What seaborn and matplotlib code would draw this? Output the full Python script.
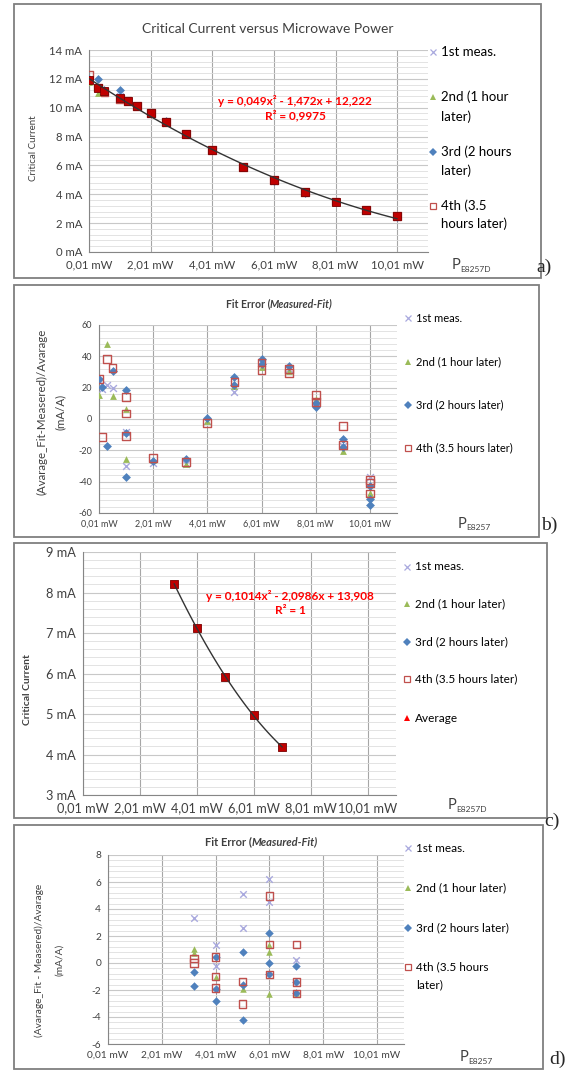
import matplotlib
matplotlib.use("Agg")
import matplotlib.pyplot as plt
from matplotlib.patches import Rectangle
from matplotlib.lines import Line2D
from matplotlib.ticker import MultipleLocator, FuncFormatter
import seaborn as sns

# ---------------- data ----------------
x_ticks = [0.01, 2.01, 4.01, 6.01, 8.01, 10.01]

# a) critical current (mA) for each measurement run
a_x = [0.01, 0.31, 0.51, 1.01, 1.26, 1.56, 2.01, 2.51, 3.16, 4.01, 5.01, 6.01, 7.01, 8.01, 9.01, 10.01]
a_1st = [11.9, 11.4, 11.1, 10.8, 10.45, 10.1, 9.6, 8.95, 8.15, 7.05, 5.9, 4.95, 4.15, 3.45, 2.9, 2.45]
a_2nd = [11.8, 11.05, 11.1, 10.6, 10.4, 10.05, 9.7, 9.0, 8.25, 7.1, 5.95, 5.0, 4.15, 3.5, 2.95, 2.5]
a_3rd = [12.0, 12.0, 11.2, 11.2, 10.5, 10.15, 9.6, 9.05, 8.2, 7.1, 5.9, 4.95, 4.1, 3.5, 2.9, 2.45]
a_4th = [12.25, 11.4, 11.1, 10.6, 10.45, 10.1, 9.65, 9.0, 8.2, 7.05, 5.9, 5.0, 4.15, 3.5, 2.9, 2.5]
a_avg = [11.95, 11.35, 11.15, 10.7, 10.45, 10.1, 9.65, 9.0, 8.2, 7.08, 5.92, 4.97, 4.15, 3.5, 2.92, 2.47]

# b) fit error, whole range
b_x_1st = [0.01, 0.11, 0.31, 0.51, 1.01, 1.01, 2.01, 3.21, 4.01, 5.01, 6.01, 7.01, 8.01, 9.01, 10.01]
b_y_1st = [24, 19, 22, 20, -8, -30, -28, -29, -1, 17, 36, 32, 11, -17, -37]
b_x_2nd = [0.01, 0.31, 0.51, 1.01, 1.01, 2.01, 3.21, 4.01, 5.01, 6.01, 7.01, 8.01, 9.01, 10.01]
b_y_2nd = [15.5, 48, 14.5, 6.5, -25.5, -26, -28.5, -1.5, 21, 33, 30.5, 13, -20.5, -47]
b_x_3rd = [0.01, 0.11, 0.31, 0.51, 1.01, 1.01, 1.01, 2.01, 3.21, 4.01, 5.01, 5.01, 6.01, 6.01,
           7.01, 8.01, 8.01, 9.01, 9.01, 10.01, 10.01, 10.01]
b_y_3rd = [25.5, 20.5, -17.5, 30.5, 18.5, -9, -37, -27, -25.5, 0.5, 27, 22, 38, 35,
           34, 10.5, 7.5, -13, -18, -43, -51, -55]
b_x_4th = [0.01, 0.11, 0.31, 0.51, 1.01, 1.01, 1.01, 2.01, 3.21, 4.01, 5.01, 6.01, 6.01,
           7.01, 7.01, 8.01, 8.01, 9.01, 9.01, 10.01, 10.01, 10.01]
b_y_4th = [25.5, -11.5, 38.5, 32.5, 14, 3.5, -11, -25, -27.5, -2.5, 23.5, 36, 31.5,
           32, 29.5, 15.5, 11, -4.5, -16.5, -39, -41, -47.5]

# c) average critical current, reduced range
c_x = [3.21, 4.01, 5.01, 6.01, 7.01]
c_avg = [8.22, 7.12, 5.92, 4.97, 4.18]

# d) fit error, reduced range
d_x_1st = [3.21, 4.01, 4.01, 5.01, 5.01, 6.01, 6.01, 7.01]
d_y_1st = [3.3, 1.3, -0.2, 5.1, 2.6, 6.25, 4.55, 0.2]
d_x_2nd = [3.21, 3.21, 4.01, 5.01, 6.01, 6.01, 6.01, 7.01]
d_y_2nd = [1.05, 0.75, -1.0, -1.9, 1.35, 0.85, -2.3, -2.2]
d_x_3rd = [3.21, 3.21, 4.01, 4.01, 4.01, 5.01, 5.01, 5.01, 6.01, 6.01, 6.01, 7.01, 7.01, 7.01]
d_y_3rd = [-0.65, -1.7, 0.45, -1.9, -2.8, 0.85, -1.65, -4.2, 2.25, 0.0, -0.85, -0.25, -1.4, -2.25]
d_x_4th = [3.21, 3.21, 4.01, 4.01, 4.01, 5.01, 5.01, 6.01, 6.01, 6.01, 7.01, 7.01, 7.01]
d_y_4th = [0.35, 0.0, 0.45, -1.0, -1.85, -1.35, -3.05, 4.95, 1.35, -0.85, 1.35, -1.4, -2.25]

eq_a = "y = 0,049x² - 1,472x + 12,222\nR² = 0,9975"
eq_c = "y = 0,1014x² - 2,0986x + 13,908\nR² = 1"

# ---------------- style ----------------
sns.set_style("white")
plt.rcParams["font.family"] = ["Lato", "DejaVu Sans"]

C1, C2, C3, C4 = "#a9a9de", "#9bbb59", "#4f81bd", "#c0504d"
AVG = "#c00000"
TXT = "#404040"

W, H = 566, 1071
fig = plt.figure(figsize=(W / 100, H / 100), dpi=100)


def fx(x):
    return x / W


def fy(y):
    return 1 - y / H


def make_axes(left, top, right, bottom):
    return fig.add_axes([fx(left), fy(bottom), (right - left) / W, (bottom - top) / H])


def style_axes(ax, ylim, major, minor, yfmt, fs):
    ax.set_xlim(0.01, 11.01)
    ax.set_xticks(x_ticks)
    ax.set_xticklabels([f"{v:.2f}".replace(".", ",") + " mW" for v in x_ticks])
    ax.set_ylim(*ylim)
    ax.yaxis.set_major_locator(MultipleLocator(major))
    ax.yaxis.set_minor_locator(MultipleLocator(minor))
    ax.yaxis.set_major_formatter(FuncFormatter(yfmt))
    ax.grid(which="major", axis="x", color="#a6a6a6", lw=0.8)
    ax.grid(which="major", axis="y", color="#c8c8c8", lw=0.8)
    ax.grid(which="minor", axis="y", color="#dedede", lw=0.6)
    ax.set_axisbelow(True)
    for s in ["top", "right"]:
        ax.spines[s].set_visible(False)
    for s in ["left", "bottom"]:
        ax.spines[s].set_color("#868686")
        ax.spines[s].set_linewidth(0.8)
    ax.tick_params(which="major", length=3, width=0.8, color="#868686",
                   labelsize=fs, labelcolor=TXT, pad=2)
    ax.tick_params(which="minor", length=0)
    ax.set_xlabel("")
    ax.set_ylabel("")


def scatter_runs(ax, runs, size=22):
    (x1, y1), (x2, y2), (x3, y3), (x4, y4) = runs
    sns.scatterplot(x=x1, y=y1, marker="x", color=C1, s=size, linewidth=1, ax=ax, zorder=3)
    sns.scatterplot(x=x2, y=y2, marker="^", color=C2, s=size, linewidth=0, ax=ax, zorder=3)
    sns.scatterplot(x=x3, y=y3, marker="D", color=C3, s=size * 0.85, linewidth=0, ax=ax, zorder=4)
    sns.scatterplot(x=x4, y=y4, marker="s", fc="none", ec=C4, s=size * 1.3, linewidth=1,
                    ax=ax, zorder=5)


def key(x, y, marker, color, lines, fs, dy):
    filled = marker not in ("x", "s")
    fig.add_artist(Line2D([fx(x)], [fy(y)], transform=fig.transFigure, ls="",
                          marker=marker, markersize=4 if marker != "x" else 4.5,
                          markerfacecolor=color if filled else "none",
                          markeredgecolor=color if not filled else "none",
                          markeredgewidth=0.9 if not filled else 0))
    for i, line in enumerate(lines):
        fig.text(fx(x + 8), fy(y + i * dy), line, fontsize=fs, color="black",
                 ha="left", va="center")


def sub_label(x, y, sub):
    fig.text(fx(x), fy(y), "P", fontsize=10.5, ha="left", va="center", color=TXT)
    fig.text(fx(x + 8), fy(y + 4), sub, fontsize=6, ha="left", va="center", color=TXT)


def frame(left, top, right, bottom):
    fig.patches.append(Rectangle((fx(left), fy(bottom)), (right - left) / W, (bottom - top) / H,
                                 transform=fig.transFigure, fill=False,
                                 edgecolor="#7f7f7f", lw=1.3))


def ma_fmt(v, p):
    return f"{v:g} mA"


def plain_fmt(v, p):
    return f"{v:g}"


# ---------------- a) ----------------
frame(14, 4, 541, 278)
ax = make_axes(89, 50, 428, 252)
runs_a = [(a_x, a_1st), (a_x, a_2nd), (a_x, a_3rd), (a_x, a_4th)]
scatter_runs(ax, runs_a, size=24)
sns.scatterplot(x=a_x, y=a_avg, marker="s", color=AVG, ec="#7a0000", s=26, linewidth=0.6,
                ax=ax, zorder=6)
sns.regplot(x=a_x, y=a_avg, order=2, scatter=False, ci=None, truncate=True, ax=ax,
            line_kws=dict(color="#333333", lw=1, zorder=7))
style_axes(ax, (0, 14), 2, 0.4, ma_fmt, 8.2)
fig.text(fx(268), fy(29), "Critical Current versus Microwave Power", fontsize=10,
         ha="center", va="center", color=TXT)
fig.text(fx(33), fy(148), "Critical Current", rotation=90, fontsize=7, ha="center",
         va="center", color=TXT)
fig.text(fx(295), fy(108), eq_a, fontsize=8.5, fontweight="bold", color="red",
         ha="center", va="center", multialignment="center", linespacing=1.25)
key(433, 52, "x", C1, ["1st meas."], 9.5, 0)
key(433, 97, "^", C2, ["2nd (1 hour", "later)"], 9.5, 20)
key(433, 152, "D", C3, ["3rd (2 hours", "later)"], 9.5, 19)
key(433, 206, "s", C4, ["4th (3.5", "hours later)"], 9.5, 18)
sub_label(452, 265, "E8257D")
fig.text(fx(536), fy(267), "a)", fontsize=14, family="Liberation Serif", ha="left", va="center")

# ---------------- b) ----------------
frame(14, 285, 539, 537)
ax = make_axes(99, 325, 397, 513)
runs_b = [(b_x_1st, b_y_1st), (b_x_2nd, b_y_2nd), (b_x_3rd, b_y_3rd), (b_x_4th, b_y_4th)]
scatter_runs(ax, runs_b, size=24)
style_axes(ax, (-60, 60), 20, 4, plain_fmt, 6.5)
fig.text(fx(270), fy(304), "Fit Error (", fontsize=7.6, fontweight="bold", ha="right",
         va="center", color=TXT)
fig.text(fx(270), fy(304), "Measured-Fit)", fontsize=7.6, fontweight="bold", style="italic",
         ha="left", va="center", color=TXT)
fig.text(fx(42), fy(412), "(Avarage_Fit-Measered)/Avarage", rotation=90, fontsize=8.3,
         ha="center", va="center", color=TXT)
fig.text(fx(60), fy(412), "(mA/A)", rotation=90, fontsize=8.3, ha="center", va="center",
         color=TXT)
key(408, 318, "x", C1, ["1st meas."], 8, 0)
key(408, 362, "^", C2, ["2nd (1 hour later)"], 8, 0)
key(408, 405, "D", C3, ["3rd (2 hours later)"], 8, 0)
key(408, 448, "s", C4, ["4th (3.5 hours later)"], 8, 0)
sub_label(458, 524, "E8257")
fig.text(fx(541), fy(525), "b)", fontsize=14, family="Liberation Serif", ha="left", va="center")

# ---------------- c) ----------------
frame(14, 543, 547, 818)
ax = make_axes(83, 552, 396, 795)
sns.scatterplot(x=c_x, y=c_avg, marker="s", color=AVG, ec="#7a0000", s=30, linewidth=0.6,
                ax=ax, zorder=6)
sns.regplot(x=c_x, y=c_avg, order=2, scatter=False, ci=None, truncate=True, ax=ax,
            line_kws=dict(color="#333333", lw=1, zorder=7))
style_axes(ax, (3, 9), 1, 0.2, ma_fmt, 9.2)
fig.text(fx(28), fy(690), "Critical Current", rotation=90, fontsize=7.5, fontweight="bold",
         ha="center", va="center", color=TXT)
fig.text(fx(290), fy(603), eq_c, fontsize=8.5, fontweight="bold", color="red",
         ha="center", va="center", multialignment="center", linespacing=1.25)
key(407, 567, "x", C1, ["1st meas."], 8.5, 0)
key(407, 604, "^", C2, ["2nd (1 hour later)"], 8.5, 0)
key(407, 642, "D", C3, ["3rd (2 hours later)"], 8.5, 0)
key(407, 679, "s", C4, ["4th (3.5 hours later)"], 8.5, 0)
key(407, 718, "^", "red", ["Average"], 8.5, 0)
sub_label(448, 805, "E8257D")
fig.text(fx(544), fy(821), "c)", fontsize=14, family="Liberation Serif", ha="left", va="center")

# ---------------- d) ----------------
frame(14, 825, 543, 1069)
ax = make_axes(108, 855, 404, 1044)
runs_d = [(d_x_1st, d_y_1st), (d_x_2nd, d_y_2nd), (d_x_3rd, d_y_3rd), (d_x_4th, d_y_4th)]
scatter_runs(ax, runs_d, size=22)
style_axes(ax, (-6, 8), 2, 0.4, plain_fmt, 7.3)
fig.text(fx(252), fy(842), "Fit Error (", fontsize=8, fontweight="bold", ha="right",
         va="center", color=TXT)
fig.text(fx(252), fy(842), "Measured-Fit)", fontsize=8, fontweight="bold", style="italic",
         ha="left", va="center", color=TXT)
fig.text(fx(39), fy(960), "(Avarage_Fit - Measered)/Avarage", rotation=90, fontsize=7.3,
         ha="center", va="center", color=TXT)
fig.text(fx(60), fy(960), "(mA/A)", rotation=90, fontsize=7.3, ha="center", va="center",
         color=TXT)
key(408, 848, "x", C1, ["1st meas."], 8.5, 0)
key(408, 888, "^", C2, ["2nd (1 hour later)"], 8.5, 0)
key(408, 928, "D", C3, ["3rd (2 hours later)"], 8.5, 0)
key(408, 967, "s", C4, ["4th (3.5 hours", "later)"], 8.5, 18)
sub_label(460, 1057, "E8257")
fig.text(fx(549), fy(1059), "d)", fontsize=14, family="Liberation Serif", ha="left", va="center")

fig.savefig("out.png", dpi=100, facecolor="white")
